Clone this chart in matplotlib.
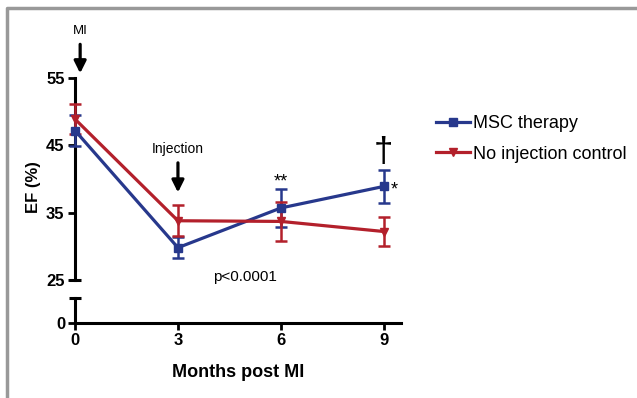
import numpy as np
import matplotlib.pyplot as plt
from matplotlib.lines import Line2D

plt.rcParams['font.family'] = ['Liberation Sans', 'DejaVu Sans']

# Data
months = [0, 3, 6, 9]
msc_ef = [47.2, 29.8, 35.7, 38.9]
msc_sem = [2.3, 1.6, 2.8, 2.4]
ctrl_ef = [48.9, 33.8, 33.7, 32.2]
ctrl_sem = [2.2, 2.3, 2.9, 2.2]
labels = ['MSC therapy', 'No injection control']

blue = '#27388c'
red = '#b3202b'
narrow = ['Liberation Sans Narrow', 'Liberation Sans', 'DejaVu Sans']

fig = plt.figure(figsize=(6.37, 3.98), dpi=100)
ax = fig.add_axes([75/637, 118/398, 326/637, 202/398])
ax2 = fig.add_axes([75/637, 75/398, 326/637, 25/398])

# grey frame (top and left)
fig.add_artist(Line2D([7/637, 7/637, 1], [0, 390/398, 390/398],
                      transform=fig.transFigure, color='#999999', lw=2.5))

for x_, y_, e_, c_, m_, lab in [(months, msc_ef, msc_sem, blue, 's', labels[0]),
                                (months, ctrl_ef, ctrl_sem, red, 'v', labels[1])]:
    ax.errorbar(x_, y_, yerr=e_, fmt='none', ecolor=c_, elinewidth=1.8,
                capsize=4.5, capthick=1.8, clip_on=False, zorder=3)
    ax.plot(x_, y_, color=c_, lw=2.3, marker=m_, markersize=5.5, label=lab,
            clip_on=False, zorder=4)

ax.set_xlim(0, 9.5)
ax.set_ylim(25, 55)
ax.set_yticks([25, 35, 45, 55])
ax.set_xticks([])
for s in ['top', 'right', 'bottom']:
    ax.spines[s].set_visible(False)
ax.spines['left'].set_linewidth(2.2)
ax.tick_params(axis='y', width=2, length=5, pad=2.5, labelsize=12)
for t in ax.get_yticklabels():
    t.set_fontweight('bold')
ax.set_ylabel('EF (%)', fontsize=12, fontweight='bold')
ax.yaxis.set_label_coords(-0.105, 0.46)

# axis break caps
ax.plot([0], [0], marker='_', markersize=9, mew=2.2, color='black',
        transform=ax.transAxes, clip_on=False)

ax2.set_xlim(0, 9.5)
ax2.set_ylim(0, 3.7)
ax2.set_yticks([0])
ax2.set_xticks(months)
for s in ['top', 'right']:
    ax2.spines[s].set_visible(False)
ax2.spines['left'].set_linewidth(2.2)
ax2.spines['bottom'].set_linewidth(2.2)
ax2.tick_params(width=2, length=5, pad=2, labelsize=12)
for t in ax2.get_yticklabels() + ax2.get_xticklabels():
    t.set_fontweight('bold')
ax2.plot([0], [1], marker='_', markersize=9, mew=2.2, color='black',
         transform=ax2.transAxes, clip_on=False)
ax2.set_xlabel('Months post MI', fontsize=13, fontweight='bold', labelpad=12)
ax2.patch.set_alpha(0)

# annotations
arrow = dict(arrowstyle='-|>', lw=2.3, color='black', mutation_scale=18,
             shrinkA=0, shrinkB=0)
ax.annotate('', xy=(0.15, 55.7), xytext=(0.15, 60.0), arrowprops=arrow,
            annotation_clip=False)
ax.text(0.15, 62.0, 'MI', ha='center', va='center', fontsize=9.5, family=narrow)
ax.annotate('', xy=(3, 38.0), xytext=(3, 42.4), arrowprops=arrow,
            annotation_clip=False)
ax.text(3, 44.4, 'Injection', ha='center', va='center', fontsize=10, family=narrow)
ax.text(6, 39.6, '**', ha='center', va='center', fontsize=13)
ax.text(9.2, 38.3, '*', ha='left', va='center', fontsize=13)
ax.text(9, 44.0, '\u2020', ha='center', va='center', fontsize=25, fontweight='light')
ax.text(4.95, 25.4, 'p<0.0001', ha='center', va='center', fontsize=11)

fig.legend(loc='upper left', bbox_to_anchor=(436/637, 283/398), frameon=False,
           fontsize=13, handlelength=1.9, handletextpad=0.15, labelspacing=0.75,
           borderpad=0, borderaxespad=0)

fig.savefig('out.png', dpi=100)
